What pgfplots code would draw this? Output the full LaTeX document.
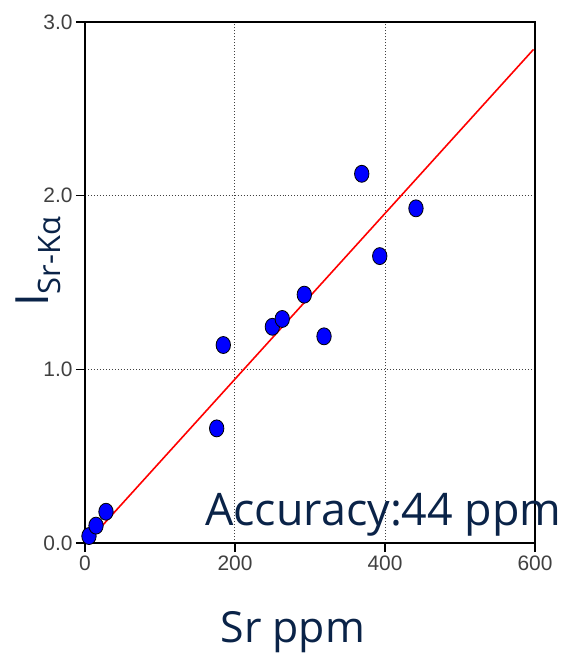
\documentclass[border=0pt]{standalone}
\usepackage{fontspec}
\usepackage{pgfplots}
\pgfplotsset{compat=1.18}
\setmainfont{Open Sans}
\newfontfamily\tickfont{Liberation Sans}
\definecolor{navy}{RGB}{10,35,72}
\definecolor{ptblue}{RGB}{0,0,255}
\begin{document}
\begin{tikzpicture}
\begin{axis}[
  name=ax,
  scale only axis,
  width=450bp, height=521bp,
  xmin=0, xmax=600, ymin=0, ymax=3,
  xtick={0,200,400,600}, ytick={0,1,2,3},
  xticklabels={0,200,400,600},
  yticklabels={0.0,1.0,2.0,3.0},
  tick align=outside,
  xtick pos=bottom, ytick pos=left,
  major tick length=9bp,
  tick style={black, line width=1.2bp},
  axis line style={black, line width=1.5bp},
  grid=major,
  major grid style={black!75, line width=1bp, dotted},
  ticklabel style={font=\tickfont\fontsize{21}{21}\selectfont, text=black!75},
  clip=false,
]
\addplot[red, line width=1.6bp] coordinates {(5,0.0139) (598,2.842)};
\addplot[only marks, mark=*, mark size=7.2bp,
  mark options={fill=ptblue, draw=black, line width=0.8bp, yscale=1.18}]
  coordinates {
    (5.3,0.04) (14.7,0.10) (28,0.18)
    (175.6,0.66) (184.4,1.14)
    (249.8,1.245) (263,1.29) (292.4,1.43)
    (318.7,1.19) (369,2.126) (393,1.652) (441.3,1.927)
  };
\node[anchor=base west, font=\fontsize{45}{45}\selectfont, text=navy, inner sep=0pt]
  at (axis cs:160,0.1036) {Accuracy:44 ppm};
\node[anchor=base, font=\fontsize{43}{43}\selectfont, text=navy, inner sep=0pt]
  at (axis cs:277,-0.5757) {Sr ppm};
\node[rotate=90, anchor=base west, font=\fontsize{46}{46}\selectfont, text=navy, inner sep=0pt]
  at (axis cs:-49.33,1.359) {I{\fontsize{31}{31}\selectfont\raisebox{-12bp}{Sr-Kα}}};
\end{axis}
\pgfresetboundingbox
\path ([shift={(-85bp,-115bp)}]ax.south west) rectangle ([shift={(32bp,22bp)}]ax.north east);
\end{tikzpicture}
\end{document}
